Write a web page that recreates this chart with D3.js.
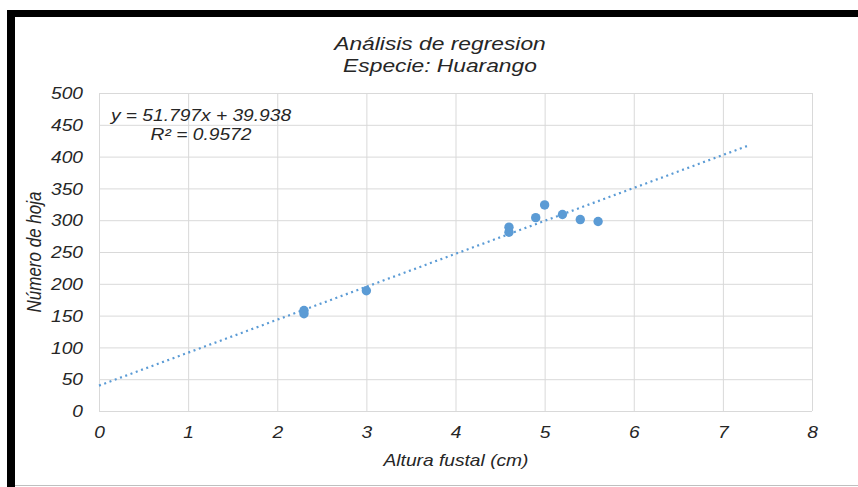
<!DOCTYPE html>
<html>
<head>
<meta charset="utf-8">
<script src="https://cdn.jsdelivr.net/npm/d3@7"></script>
<style>
  html, body { margin: 0; padding: 0; background: #fff; }
  svg { display: block; }
  text { font-family: "Liberation Sans", Arial, sans-serif; font-style: italic; }
</style>
</head>
<body>
<svg id="chart" width="858" height="487"></svg>
<script>
// Observations: stem height (cm) vs. number of leaves
const alturaFustal = [2.3, 2.3, 3.0, 4.6, 4.6, 4.9, 5.0, 5.2, 5.4, 5.6];
const numeroHoja   = [158, 153, 189, 289, 281, 304, 324, 309, 301, 298];

// Linear trend line coefficients and fit quality
const pendiente = 51.797;
const intercepto = 39.938;
const r2 = 0.9572;
const tendenciaX = [0, 7.27];

// Axis ticks
const xTicks = [0, 1, 2, 3, 4, 5, 6, 7, 8];
const yTicks = [0, 50, 100, 150, 200, 250, 300, 350, 400, 450, 500];

const titulo = ["Análisis de regresion", "Especie: Huarango"];
const xTitulo = "Altura fustal (cm)";
const yTitulo = "Número de hoja";

const W = 858, H = 487;
const plot = { left: 99, right: 812, top: 93, bottom: 411 };
const stretch = 1.2;
const blue = "#5B9BD5";
const grid = "#d9d9d9";
const ink = "#262626";

const svg = d3.select("#chart");

// frame
svg.append("rect").attr("x", 0).attr("y", 0).attr("width", W).attr("height", H).attr("fill", "#fff");
svg.append("rect").attr("x", 7).attr("y", 10).attr("width", W - 7).attr("height", 7).attr("fill", "#000");
svg.append("rect").attr("x", 7).attr("y", 10).attr("width", 8).attr("height", H - 10).attr("fill", "#000");
svg.append("line").attr("x1", 15).attr("x2", W).attr("y1", 485.5).attr("y2", 485.5)
  .attr("stroke", "#bfbfbf").attr("stroke-width", 1);

const x = d3.scaleLinear().domain([0, 8]).range([plot.left, plot.right]);
const y = d3.scaleLinear().domain([0, 500]).range([plot.bottom, plot.top]);

// gridlines
svg.append("g")
  .attr("transform", `translate(0,${plot.bottom})`)
  .call(d3.axisBottom(x).tickValues(xTicks).tickSize(-(plot.bottom - plot.top)).tickFormat(""))
  .call(g => g.select(".domain").remove())
  .call(g => g.selectAll("line").attr("stroke", grid));
svg.append("g")
  .attr("transform", `translate(${plot.left},0)`)
  .call(d3.axisLeft(y).tickValues(yTicks).tickSize(-(plot.right - plot.left)).tickFormat(""))
  .call(g => g.select(".domain").remove())
  .call(g => g.selectAll("line").attr("stroke", grid));

// tick labels
const xAxis = svg.append("g")
  .attr("transform", `translate(0,${plot.bottom})`)
  .call(d3.axisBottom(x).tickValues(xTicks).tickSize(0).tickPadding(0).tickFormat(d3.format("d")));
xAxis.select(".domain").remove();
xAxis.selectAll("text")
  .attr("y", 0).attr("dy", "27.5px")
  .attr("transform", `scale(${stretch},1)`)
  .attr("font-size", 16).attr("fill", ink)
  .style("font-family", "Liberation Sans, Arial, sans-serif").style("font-style", "italic");

const yAxis = svg.append("g")
  .attr("transform", `translate(${plot.left},0)`)
  .call(d3.axisLeft(y).tickValues(yTicks).tickSize(0).tickPadding(0).tickFormat(d3.format("d")));
yAxis.select(".domain").remove();
yAxis.selectAll("text")
  .attr("x", -16 / stretch).attr("dy", "0.36em")
  .attr("transform", `scale(${stretch},1)`)
  .attr("font-size", 16).attr("fill", ink)
  .style("font-family", "Liberation Sans, Arial, sans-serif").style("font-style", "italic");

// trend line
const trend = d3.line()
  .x(d => x(d))
  .y(d => y(pendiente * d + intercepto));
svg.append("path")
  .datum(tendenciaX)
  .attr("d", trend)
  .attr("fill", "none")
  .attr("stroke", blue)
  .attr("stroke-width", 2.2)
  .attr("stroke-dasharray", "2 3.6");

// points
svg.append("g").selectAll("circle")
  .data(alturaFustal.map((v, i) => [v, numeroHoja[i]]))
  .join("circle")
  .attr("cx", d => x(d[0]))
  .attr("cy", d => y(d[1]))
  .attr("r", 4.7)
  .attr("fill", blue);

function label(txt, tx, ty, size, anchor, rotate) {
  svg.append("text")
    .attr("transform", `translate(${tx},${ty})${rotate ? ` rotate(${rotate})` : ""} scale(${stretch},1)`)
    .attr("text-anchor", anchor)
    .attr("font-size", size)
    .attr("fill", ink)
    .text(txt);
}

// title
label(titulo[0], 440, 50, 19, "middle", 0);
label(titulo[1], 440, 72, 19, "middle", 0);

// axis titles
label(xTitulo, 456, 466, 16, "middle", 0);
svg.append("text")
  .attr("transform", `translate(41,${(plot.top + plot.bottom) / 2}) scale(${stretch},1) rotate(-90)`)
  .attr("text-anchor", "middle")
  .attr("font-size", 17)
  .attr("fill", ink)
  .text(yTitulo);

// regression equation
const fmt = d3.format(".3f");
label(`y = ${fmt(pendiente)}x + ${fmt(intercepto)}`, 201, 121, 16, "middle", 0);
label(`R² = ${r2}`, 201, 140, 16, "middle", 0);
</script>
</body>
</html>
